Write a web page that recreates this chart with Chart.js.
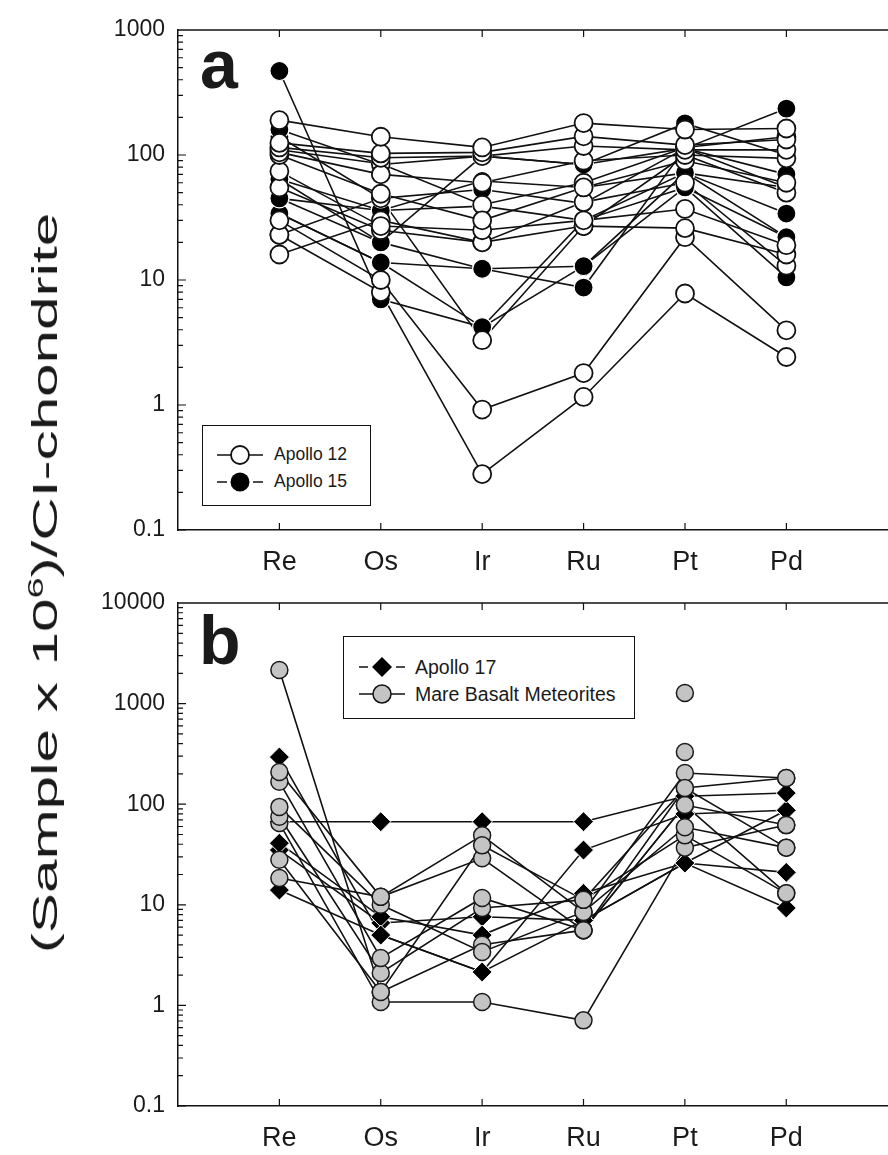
<!DOCTYPE html>
<html>
<head>
<meta charset="utf-8">
<script src="https://cdn.jsdelivr.net/npm/chart.js@4.4.1/dist/chart.umd.min.js"></script>
<style>
html, body { margin: 0; padding: 0; background: #fff; overflow: hidden; }
#wrap { position: relative; width: 888px; height: 1155px; overflow: hidden; font-family: "Liberation Sans", Arial, sans-serif; color: #1a1a1a; }
.pane { position: absolute; left: 0; width: 1000px; }
#paneA { top: 0; height: 590px; }
#paneB { top: 560px; height: 595px; }
.letter { position: absolute; font-weight: bold; font-size: 68px; line-height: 1; }
.legend { position: absolute; border: 1.5px solid #111; background: #fff; box-sizing: border-box; }
.legend svg { position: absolute; }
.legend span { position: absolute; line-height: 1; }
#ytitle { position: absolute; left: 45px; top: 583px; transform: translate(-50%, -50%) rotate(-90deg) scaleX(1.72); white-space: nowrap; font-size: 35px; }
#ytitle sup { font-size: 22px; vertical-align: 14px; line-height: 0; }
</style>
</head>
<body>
<div id="wrap">
  <div class="pane" id="paneA"><canvas id="chartA" width="1000" height="590"></canvas></div>
  <div class="pane" id="paneB"><canvas id="chartB" width="1000" height="595"></canvas></div>

  <div class="letter" style="left:200px; top:30px;">a</div>
  <div class="letter" style="left:199px; top:606px;">b</div>

  <div class="legend" style="left:202px; top:425px; width:169px; height:81px; font-size:17.5px;">
    <svg style="left:12px; top:17px;" width="50" height="50">
      <line x1="2" y1="12" x2="48" y2="12" stroke="#111" stroke-width="1.5"/>
      <circle cx="25" cy="12" r="9" fill="#fff" stroke="#111" stroke-width="1.8"/>
      <line x1="2" y1="39" x2="12" y2="39" stroke="#111" stroke-width="1.5"/>
      <line x1="38" y1="39" x2="48" y2="39" stroke="#111" stroke-width="1.5"/>
      <circle cx="25" cy="39" r="9.5" fill="#000"/>
    </svg>
    <span style="left:71px; top:20px;">Apollo 12</span>
    <span style="left:71px; top:47px;">Apollo 15</span>
  </div>

  <div class="legend" style="left:343px; top:636px; width:292px; height:83px; font-size:19.5px;">
    <svg style="left:13px; top:17px;" width="50" height="50">
      <line x1="2" y1="13" x2="11" y2="13" stroke="#111" stroke-width="1.5"/>
      <line x1="39" y1="13" x2="48" y2="13" stroke="#111" stroke-width="1.5"/>
      <polygon points="15,13 25,3 35,13 25,23" fill="#000"/>
      <line x1="2" y1="40" x2="48" y2="40" stroke="#111" stroke-width="1.5"/>
      <circle cx="25" cy="40" r="9" fill="#c4c4c4" stroke="#111" stroke-width="1.5"/>
    </svg>
    <span style="left:71px; top:21px;">Apollo 17</span>
    <span style="left:71px; top:48px;">Mare Basalt Meteorites</span>
  </div>

  <div id="ytitle">(Sample x 10<sup>6</sup>)/CI-chondrite</div>
</div>

<script>
// element order on the x axis
const elements = ['Re', 'Os', 'Ir', 'Ru', 'Pt', 'Pd'];

// panel a: Apollo 12 samples (open circles)
const apollo12 = [
  [190, 140, 115, 180, 160, 163],
  [125, 103, 105, 141, 120, 133],
  [115, 95, 98, 118, 110, 110],
  [105, 70, 60, 90, 100, 94],
  [100, 49, 30, 55, 90, 60],
  [74, 27, 25, 30, 37, 19],
  [55, 25, 20, 27, 26, 16],
  [30, 10, 0.92, 1.8, 22, 3.96],
  [23, 8, 0.28, 1.16, 7.8, 2.42],
  [16, 30, 20, 42, 60, 13],
  [23, 45, 3.3, 27, 100, 50],
  [110, 85, 40, 60, 115, 140]
];

// panel a: Apollo 15 samples (filled circles)
const apollo15 = [
  [470, 7, 4.2, 12.9, 55, 22],
  [160, 84, 98, 84, 179, 100],
  [140, 45, 53, 41, 113, 235],
  [64, 36, 62, 55, 72, 55],
  [45, 20, 12.3, 8.7, 113, 70],
  [34, 13.8, 4.2, 30, 55, 10.5],
  [45, 36, 39, 30, 72, 34],
  [64, 20, 98, 84, 113, 55],
  [34, 13.8, 12.3, 12.9, 72, 22]
];

// panel b: Apollo 17 samples (diamonds)
const apollo17 = [
  [67, 67, 67, 67, 120, 129],
  [294, 5.0, 2.15, 35, 80, 87],
  [41, 7.6, 5.0, 13, 26, 21],
  [35, 6.6, 7.6, 7, 26, 9.3],
  [14, 5.0, 2.15, 7, 26, 87]
];

// panel b: mare basalt meteorites (grey circles)
const mareBasalt = [
  [2160, 1.36, 39, 11.2, 145, 182],
  [209, 12, 49, 8.5, 204, 182],
  [167, 2.96, 11.7, 5.6, 98, 62],
  [94, 10, 3.4, 8.5, 59, 37],
  [75, 2.1, 9.3, 11.2, 49, 13],
  [65, 1.08, 1.08, 0.71, 37, 62],
  [28, 1.36, 4.0, 5.6, 98, 13],
  [18.5, 12, 29, 5.6, 145, 37],
  [null, null, null, null, 1275, null],
  [null, null, null, null, 330, null]
];

const yTicksA = [0.1, 1, 10, 100, 1000];
const yTicksB = [0.1, 1, 10, 100, 1000, 10000];

const FONT = '"Liberation Sans", Arial, sans-serif';

const styles = {
  open:    { pointStyle: 'circle',  pointRadius: 9,   pointBackgroundColor: '#fff',    pointBorderColor: '#111', pointBorderWidth: 1.8 },
  filled:  { pointStyle: 'circle',  pointRadius: 9.5, pointBackgroundColor: '#000',    pointBorderColor: '#fff', pointBorderWidth: 1.2 },
  grey:    { pointStyle: 'circle',  pointRadius: 8.5, pointBackgroundColor: '#c4c4c4', pointBorderColor: '#1a1a1a', pointBorderWidth: 1.5 },
  diamond: { pointStyle: 'rectRot', pointRadius: 10,  pointBackgroundColor: '#000',    pointBorderColor: '#fff', pointBorderWidth: 1 }
};

function pts(vals) {
  return vals.map((v, i) => ({ x: i, y: v }));
}

// lines go underneath all markers: line datasets get a higher order
function buildSets(groups) {
  let lines = [], marks = [];
  groups.forEach(g => {
    g.rows.forEach(r => {
      lines.push({ data: pts(r), borderColor: '#111', borderWidth: 1.6, pointRadius: 0, order: 2, spanGaps: false });
      marks.push(Object.assign({ data: pts(r), showLine: false, order: 1 }, styles[g.style]));
    });
  });
  return lines.concat(marks);
}

const framePlugin = {
  id: 'frame',
  afterDraw(chart) {
    const ctx = chart.ctx, a = chart.chartArea, x = chart.scales.x, y = chart.scales.y;
    ctx.save();
    ctx.strokeStyle = '#111';
    ctx.lineWidth = 1.5;
    ctx.beginPath();
    ctx.moveTo(a.left, a.top); ctx.lineTo(a.right, a.top);
    ctx.stroke();
    ctx.lineWidth = 1.2;
    ctx.beginPath();
    const lo = Math.round(Math.log10(y.min)), hi = Math.round(Math.log10(y.max));
    for (let n = lo; n < hi; n++) {
      for (let k = 1; k <= 9; k++) {
        const py = y.getPixelForValue(k * Math.pow(10, n));
        ctx.moveTo(a.left, py); ctx.lineTo(a.left + (k === 1 ? 8 : 5), py);
      }
    }
    elements.forEach((e, i) => {
      const px = x.getPixelForValue(i);
      ctx.moveTo(px, a.bottom); ctx.lineTo(px, a.bottom - 7);
      ctx.moveTo(px, a.top); ctx.lineTo(px, a.top + 7);
    });
    ctx.stroke();
    ctx.restore();
  }
};

function makeChart(id, datasets, ymin, ymax, yTicks, topPad, xHeight) {
  return new Chart(document.getElementById(id), {
    type: 'line',
    data: { datasets: datasets },
    options: {
      responsive: false,
      animation: false,
      layout: { padding: { top: topPad, left: 0, right: 0, bottom: 0 } },
      plugins: { legend: { display: false }, tooltip: { enabled: false } },
      scales: {
        x: {
          type: 'linear', min: -1, max: 7,
          border: { display: true, color: '#111', width: 1.5 },
          grid: { display: false, drawTicks: false },
          afterBuildTicks: s => { s.ticks = elements.map((e, i) => ({ value: i })); },
          afterFit: s => { s.height = xHeight; },
          ticks: {
            autoSkip: false, maxRotation: 0, padding: 16, color: '#1a1a1a',
            font: { family: FONT, size: 27 },
            callback: v => elements[v] ?? ''
          }
        },
        y: {
          type: 'logarithmic', min: ymin, max: ymax,
          border: { display: true, color: '#111', width: 1.5 },
          grid: { display: false, drawTicks: false },
          afterBuildTicks: s => { s.ticks = yTicks.map(v => ({ value: v })); },
          afterFit: s => { s.width = 178; },
          ticks: {
            autoSkip: false, padding: 13, color: '#1a1a1a',
            font: { family: FONT, size: 23 },
            callback: v => String(v)
          }
        }
      }
    },
    plugins: [framePlugin]
  });
}

makeChart('chartA', buildSets([
  { rows: apollo12, style: 'open' },
  { rows: apollo15, style: 'filled' }
]), 0.1, 1000, yTicksA, 30, 60);

makeChart('chartB', buildSets([
  { rows: mareBasalt, style: 'grey' },
  { rows: apollo17, style: 'diamond' }
]), 0.1, 10000, yTicksB, 43, 49);
</script>
</body>
</html>
